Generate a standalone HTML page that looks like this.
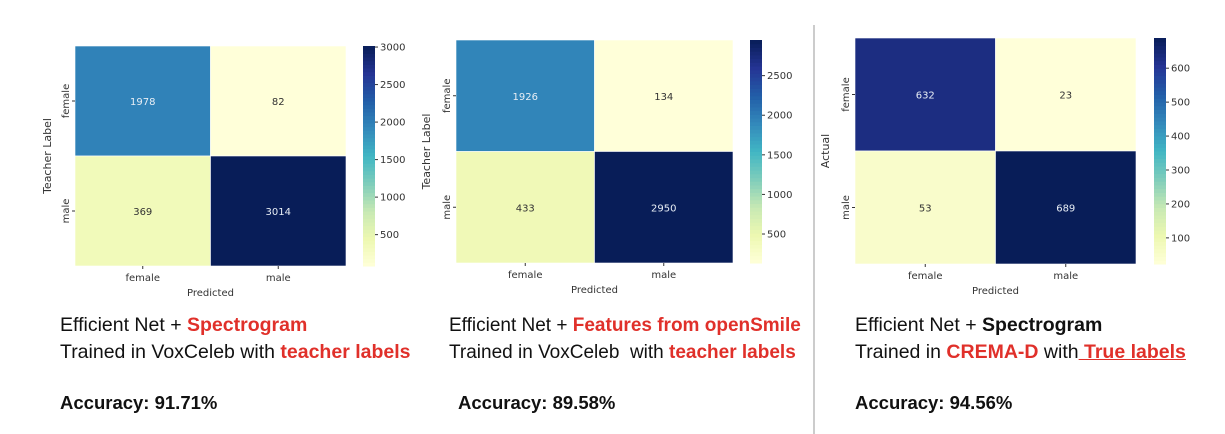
<!DOCTYPE html>
<html><head><meta charset="utf-8">
<style>
body{margin:0;background:#fff;width:1225px;height:434px;overflow:hidden;position:relative;font-family:"Liberation Sans",sans-serif}
.cap{position:absolute;font-size:19.5px;color:#111;line-height:27px;white-space:nowrap}
.red{color:#e0302a;font-weight:bold}
.acc{position:absolute;font-size:18.5px;font-weight:bold;color:#111;top:392px}
svg text{font-family:"DejaVu Sans",sans-serif}
</style></head>
<body>
<svg id="svg" width="1225" height="434" style="position:absolute;left:0;top:0">
<line x1="814" y1="25" x2="814" y2="434" stroke="#999" stroke-width="1"/>
</svg>
<div class="cap" style="left:60px;top:312px">Efficient Net + <span class="red">Spectrogram</span><br>Trained in VoxCeleb with <span class="red">teacher labels</span></div>
<div class="cap" style="left:449px;top:312px;font-size:19px">Efficient Net + <span class="red">Features from openSmile</span><br>Trained in VoxCeleb &nbsp;with <span class="red">teacher labels</span></div>
<div class="cap" style="left:855px;top:312px">Efficient Net + <b>Spectrogram</b><br>Trained in <span class="red">CREMA-D</span> with<span class="red" style="text-decoration:underline"> True labels</span></div>
<div class="acc" style="left:60px">Accuracy: 91.71%</div>
<div class="acc" style="left:458px">Accuracy: 89.58%</div>
<div class="acc" style="left:855px">Accuracy: 94.56%</div>
<script>
const classLabels=["female","male"];
const matrix1=[[1978,82],[369,3014]];
const matrix2=[[1926,134],[433,2950]];
const matrix3=[[632,23],[53,689]];
const ticks1=[500,1000,1500,2000,2500,3000];
const ticks2=[500,1000,1500,2000,2500];
const ticks3=[100,200,300,400,500,600];
const yTitles=["Teacher Label","Teacher Label","Actual"];

const stops=["#ffffd9","#edf8b1","#c7e9b4","#7fcdbb","#41b6c4","#3389bb","#225ea8","#253494","#081d58"];
function hex(h){return [1,3,5].map(i=>parseInt(h.substr(i,2),16));}
function cmap(t){t=Math.max(0,Math.min(1,t));const p=t*(stops.length-1);const i=Math.min(Math.floor(p),stops.length-2);const f=p-i;const a=hex(stops[i]),b=hex(stops[i+1]);return "rgb("+a.map((v,k)=>Math.round(v+(b[k]-v)*f)).join(",")+")";}
const NS="http://www.w3.org/2000/svg";
const svg=document.getElementById("svg");
function mk(tag,attrs,parent){const e=document.createElementNS(NS,tag);for(const k in attrs)e.setAttribute(k,attrs[k]);(parent||svg).appendChild(e);return e;}
function draw(m,ticks,yTitle,g){
  const flat=m.flat();const mn=Math.min(...flat),mx=Math.max(...flat);
  const cw=(g.x1-g.x0)/2,ch=(g.y1-g.y0)/2;
  m.forEach((row,r)=>row.forEach((v,c)=>{
    const t=(v-mn)/(mx-mn);
    const rect=mk("rect",{x:g.x0+c*cw,y:g.y0+r*ch,width:cw,height:ch,fill:cmap(t),stroke:"#fff","stroke-width":0.6});
    
    
    const tx=mk("text",{x:g.x0+c*cw+cw/2,y:g.y0+r*ch+ch/2+4,"text-anchor":"middle","font-size":10,fill:t>0.5?"#e8eef5":"#333"});
    tx.textContent=v;
    
    
  }));
  classLabels.forEach((l,i)=>{
    const xx=g.x0+i*cw+cw/2;
    mk("line",{x1:xx,y1:g.y1,x2:xx,y2:g.y1+3,stroke:"#333"});
    const t=mk("text",{x:xx,y:g.y1+15,"text-anchor":"middle","font-size":10,fill:"#333"});t.textContent=l;
    
    
    const yy=g.y0+i*ch+ch/2;
    mk("line",{x1:g.x0-3,y1:yy,x2:g.x0,y2:yy,stroke:"#333"});
    const t2=mk("text",{x:g.x0-6,y:yy,"text-anchor":"middle","font-size":10,fill:"#333",transform:`rotate(-90 ${g.x0-6} ${yy})`});t2.textContent=l;
    
    
  });
  const xt=mk("text",{x:(g.x0+g.x1)/2,y:g.y1+30,"text-anchor":"middle","font-size":10,fill:"#333"});xt.textContent="Predicted";
  
  
  const ym=(g.y0+g.y1)/2;
  const yt=mk("text",{x:g.yx,y:ym,"text-anchor":"middle","font-size":11,fill:"#333",transform:`rotate(-90 ${g.yx} ${ym})`});yt.textContent=yTitle;
  
  
  const n=60,h=(g.y1-g.y0)/n;
  for(let i=0;i<n;i++){const r=mk("rect",{x:g.cb,y:g.y1-(i+1)*h,width:12,height:h+0.5,fill:cmap((i+0.5)/n)});
    
    }
  const cy=v=>g.y1-(v-mn)/(mx-mn)*(g.y1-g.y0);
  ticks.forEach(v=>{const y=cy(v);
    mk("line",{x1:g.cb+12,y1:y,x2:g.cb+15,y2:y,stroke:"#333"});
    const t=mk("text",{x:g.cb+17,y:y+3.5,"font-size":10,fill:"#333"});t.textContent=v;
    
    });
}
draw(matrix1,ticks1,yTitles[0],{x0:75,x1:346,y0:46,y1:266,cb:363,yx:51});
draw(matrix2,ticks2,yTitles[1],{x0:456,x1:733,y0:40,y1:263,cb:750,yx:430});
draw(matrix3,ticks3,yTitles[2],{x0:855,x1:1136,y0:38,y1:264,cb:1154,yx:829});
</script>
</body></html>
